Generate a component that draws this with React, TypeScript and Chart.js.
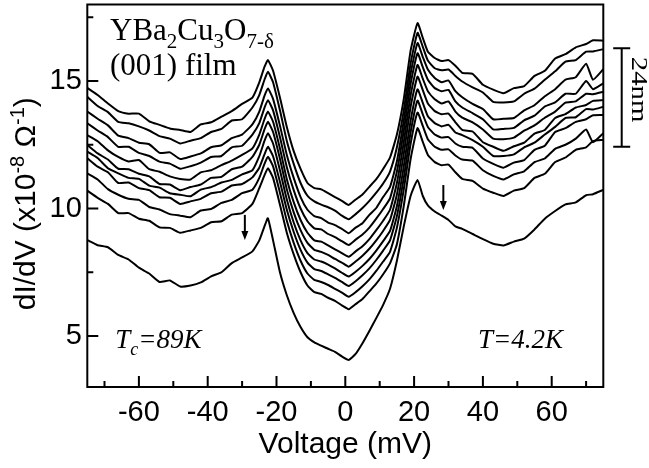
import React, { useEffect, useRef } from "react";
import { Chart, registerables } from "chart.js";

Chart.register(...registerables);

// ---------- data ----------
const voltage = [
  -75, -72, -69, -66, -63, -60, -57, -54, -51, -48, -45, -42, -39, -36, -33, -30, -27,
  -25, -23.5, -22.5, -21, -19, -17, -15, -13, -11, -9, -7, -5, -3, -1,
  1, 3, 5, 7, 9, 11, 13, 15, 17, 19, 21, 22.5, 24, 26, 28, 30, 32,
  34, 37, 40, 43, 46, 49, 52, 55, 58, 61, 64, 67, 70,
  72, 75,
];

const curve1 = [
  14.73, 14.45, 14.12, 13.82, 13.72, 13.72, 13.42, 13.28, 13.14, 13.08, 13.0, 13.3, 13.38, 13.6, 13.82, 14.1, 14.35,
  14.95, 15.55, 15.82, 15.4, 14.35, 13.2, 12.25, 11.55, 11.0, 10.8, 10.75, 10.6, 10.45, 10.3,
  10.14, 10.35, 10.55, 10.85, 11.15, 11.55, 12.0, 12.9, 14.3, 16.2, 17.27, 16.7, 16.15, 15.9, 15.78, 15.82, 15.6,
  15.32, 15.28, 14.85, 14.66, 14.52, 14.72, 14.8, 15.2, 15.4, 15.88, 16.05, 16.32, 16.45,
  16.6, 16.58,
];
const curve2 = [
  14.38, 14.02, 13.78, 13.4, 13.34, 13.22, 13.06, 12.84, 12.74, 12.55, 12.66, 12.76, 13.0, 13.12, 13.45, 13.5, 13.96,
  14.45, 15.05, 15.36, 14.95, 13.85, 12.65, 11.75, 11.0, 10.5, 10.28, 10.15, 10.05, 9.92, 9.72,
  9.58, 9.78, 10.02, 10.3, 10.62, 10.98, 11.45, 12.4, 13.85, 15.7, 16.89, 16.35, 15.8, 15.5, 15.42, 15.45, 15.2,
  14.98, 14.75, 14.55, 14.18, 14.16, 14.2, 14.5, 14.7, 15.05, 15.38, 15.76, 15.82, 16.15,
  16.16, 16.25,
];
const curve3 = [
  13.8, 13.52, 13.26, 12.86, 12.76, 12.58, 12.52, 12.18, 12.2, 11.94, 12.04, 12.16, 12.4, 12.48, 12.76, 12.9, 13.3,
  13.8, 14.42, 14.71, 14.3, 13.25, 12.1, 11.2, 10.45, 9.95, 9.7, 9.62, 9.45, 9.35, 9.2,
  9.03, 9.25, 9.42, 9.75, 10.02, 10.45, 10.85, 11.85, 13.45, 15.3, 16.49, 15.95, 15.45, 15.12, 14.95, 15.02, 14.6,
  14.36, 14.1, 13.9, 13.5, 13.52, 13.55, 13.85, 14.05, 14.4, 14.68, 15.05, 15.15, 15.68,
  15.05, 15.46,
];
const curve4 = [
  13.34, 13.06, 12.8, 12.42, 12.42, 12.18, 12.06, 11.84, 11.76, 11.56, 11.66, 11.8, 12.02, 12.06, 12.4, 12.46, 12.9,
  13.35, 13.95, 14.25, 13.85, 12.8, 11.62, 10.72, 10.0, 9.5, 9.22, 9.18, 9.0, 8.88, 8.72,
  8.57, 8.78, 8.98, 9.25, 9.6, 9.98, 10.4, 11.45, 13.05, 14.9, 16.09, 15.55, 15.05, 14.72, 14.6, 14.65, 14.2,
  13.96, 13.74, 13.5, 13.1, 13.12, 13.16, 13.46, 13.64, 14.0, 14.16, 14.5, 14.5, 15.0,
  14.68, 14.91,
];
const curve5 = [
  12.88, 12.64, 12.28, 12.02, 11.84, 11.9, 11.54, 11.44, 11.26, 11.16, 11.14, 11.42, 11.5, 11.7, 11.88, 12.1, 12.36,
  12.9, 13.5, 13.8, 13.4, 12.35, 11.15, 10.25, 9.55, 9.05, 8.75, 8.7, 8.55, 8.4, 8.25,
  8.11, 8.32, 8.52, 8.8, 9.15, 9.52, 9.95, 11.0, 12.6, 14.45, 15.63, 15.1, 14.6, 14.28, 14.12, 14.2, 13.8,
  13.56, 13.38, 13.1, 12.74, 12.72, 12.78, 13.05, 13.26, 13.56, 13.8, 14.15, 14.2, 14.5,
  14.48, 14.58,
];
const curve6 = [
  12.49, 12.16, 11.92, 11.56, 11.54, 11.36, 11.26, 10.96, 10.94, 10.72, 10.84, 10.94, 11.2, 11.24, 11.54, 11.64, 12.02,
  12.5, 13.1, 13.4, 13.0, 11.95, 10.75, 9.85, 9.15, 8.65, 8.38, 8.3, 8.18, 8.02, 7.88,
  7.72, 7.92, 8.15, 8.42, 8.75, 9.12, 9.55, 10.55, 12.15, 14.0, 15.17, 14.65, 14.12, 13.82, 13.7, 13.72, 13.38,
  13.08, 13.02, 12.6, 12.42, 12.26, 12.44, 12.58, 12.94, 13.08, 13.55, 13.7, 13.96, 14.06,
  14.22, 14.25,
];
const curve7 = [
  12.23, 11.98, 11.58, 11.38, 11.2, 11.16, 10.9, 10.82, 10.6, 10.54, 10.48, 10.74, 10.84, 11.02, 11.12, 11.34, 11.5,
  12.05, 12.65, 12.95, 12.55, 11.5, 10.35, 9.45, 8.75, 8.25, 8.0, 7.92, 7.8, 7.65, 7.48,
  7.33, 7.52, 7.75, 8.02, 8.35, 8.72, 9.12, 10.1, 11.65, 13.45, 14.67, 14.15, 13.62, 13.35, 13.22, 13.28, 12.98,
  12.88, 12.68, 12.42, 12.06, 12.06, 12.12, 12.4, 12.58, 12.9, 13.2, 13.55, 13.58, 13.9,
  13.88, 13.99,
];
const curve8 = [
  11.97, 11.64, 11.42, 11.0, 11.02, 10.8, 10.72, 10.44, 10.42, 10.18, 10.28, 10.38, 10.6, 10.66, 10.9, 10.96, 11.22,
  11.6, 12.12, 12.42, 12.05, 11.05, 9.95, 9.08, 8.38, 7.88, 7.62, 7.55, 7.42, 7.28, 7.12,
  6.96, 7.15, 7.38, 7.65, 7.98, 8.35, 8.75, 9.7, 11.2, 13.0, 14.23, 13.7, 13.2, 12.9, 12.78, 12.8, 12.55,
  12.42, 12.38, 11.96, 11.75, 11.6, 11.8, 11.9, 12.3, 12.46, 13.0, 13.15, 13.4, 13.5,
  13.66, 13.67,
];
const curve9 = [
  11.38, 11.14, 10.76, 10.54, 10.38, 10.34, 10.06, 9.96, 9.78, 9.72, 9.66, 9.92, 9.98, 10.22, 10.34, 10.6, 10.74,
  11.2, 11.75, 12.03, 11.65, 10.62, 9.52, 8.65, 7.95, 7.45, 7.2, 7.12, 7.0, 6.85, 6.7,
  6.54, 6.72, 6.95, 7.22, 7.55, 7.92, 8.3, 9.25, 10.75, 12.55, 13.76, 13.25, 12.72, 12.42, 12.3, 12.32, 12.08,
  11.92, 11.88, 11.5, 11.28, 11.14, 11.34, 11.46, 11.82, 11.96, 12.34, 12.5, 12.74, 13.1,
  12.6, 12.95,
];
const curve10 = [
  10.7, 10.42, 10.18, 9.82, 9.82, 9.6, 9.52, 9.26, 9.24, 9.05, 9.14, 9.24, 9.46, 9.5, 9.76, 9.82, 10.18,
  10.8, 11.3, 11.58, 11.2, 10.15, 9.05, 8.2, 7.5, 6.98, 6.72, 6.65, 6.5, 6.38, 6.2,
  6.05, 6.25, 6.45, 6.75, 7.05, 7.42, 7.85, 8.6, 10.1, 11.95, 13.15, 12.62, 12.1, 11.82, 11.7, 11.72, 11.42,
  11.16, 11.08, 10.78, 10.62, 10.49, 10.7, 10.8, 11.2, 11.36, 11.82, 12.0, 12.3, 12.4,
  12.64, 12.69,
];
const curve11 = [
  8.76, 8.56, 8.48, 8.18, 8.0, 7.68, 7.45, 7.12, 7.18, 6.94, 6.98, 7.1, 7.34, 7.5, 7.86, 8.08, 8.32,
  8.75, 9.3, 9.62, 8.75, 7.5, 6.6, 5.9, 5.35, 4.95, 4.75, 4.62, 4.5, 4.38, 4.2,
  4.06, 4.3, 4.72, 5.2, 5.7, 6.22, 6.85, 7.95, 9.3, 10.5, 11.12, 10.5, 10.12, 9.88, 9.72, 9.55, 9.3,
  9.2, 9.0, 8.8, 8.62, 8.55, 8.7, 8.82, 9.18, 9.6, 9.9, 10.16, 10.24, 10.52,
  10.56, 10.73,
];

const curves = [curve1, curve2, curve3, curve4, curve5, curve6, curve7, curve8, curve9, curve10, curve11];

const xMajorTicks = [-60, -40, -20, 0, 20, 40, 60];
const xMinorTicks = [-70, -50, -30, -10, 10, 30, 50, 70];
const yMajorTicks = [5, 10, 15];
const yMinorTicks = [7.5, 12.5, 17.5];

const X_MIN = -75;
const X_MAX = 75;
const Y_MIN = 3;
const Y_MAX = 18;

// ---------- styling ----------
const SANS = '"Liberation Sans", Arial, Helvetica, sans-serif';
const SERIF = '"Liberation Serif", "Times New Roman", Times, serif';

type Part = { t: string; sub?: boolean; sup?: boolean };

function partFont(p: Part, size: number, family: string, style: string) {
  const s = p.sub || p.sup ? Math.round(size * 0.68) : size;
  return `${style} ${s}px ${family}`;
}

function measureRich(ctx: CanvasRenderingContext2D, parts: Part[], size: number, family: string, style = "") {
  let w = 0;
  for (const p of parts) {
    ctx.font = partFont(p, size, family, style);
    w += ctx.measureText(p.t).width;
  }
  return w;
}

function drawRich(
  ctx: CanvasRenderingContext2D,
  x: number,
  y: number,
  parts: Part[],
  size: number,
  family: string,
  style = ""
) {
  let cx = x;
  ctx.textAlign = "left";
  ctx.textBaseline = "alphabetic";
  for (const p of parts) {
    ctx.font = partFont(p, size, family, style);
    const dy = p.sub ? size * 0.27 : p.sup ? -size * 0.38 : 0;
    ctx.fillText(p.t, cx, y + dy);
    cx += ctx.measureText(p.t).width;
  }
  return cx - x;
}

const formulaParts: Part[] = [
  { t: "YBa" },
  { t: "2", sub: true },
  { t: "Cu" },
  { t: "3", sub: true },
  { t: "O" },
  { t: "7-δ", sub: true },
];
const filmParts: Part[] = [{ t: "(001) film" }];
const tcParts: Part[] = [{ t: "T" }, { t: "c", sub: true }, { t: "=89K" }];
const tParts: Part[] = [{ t: "T=4.2K" }];
const yTitleParts: Part[] = [
  { t: "dI/dV (x10" },
  { t: "-8", sup: true },
  { t: " Ω" },
  { t: "-1", sup: true },
  { t: ")" },
];

function drawArrow(ctx: CanvasRenderingContext2D, x: number, y1: number, y2: number) {
  ctx.beginPath();
  ctx.moveTo(x, y1);
  ctx.lineTo(x, y2 - 6);
  ctx.stroke();
  ctx.beginPath();
  ctx.moveTo(x - 3.5, y2 - 9);
  ctx.lineTo(x + 3.5, y2 - 9);
  ctx.lineTo(x, y2);
  ctx.closePath();
  ctx.fill();
}

const decorations = {
  id: "decorations",
  afterDraw(chart: any) {
    const { ctx, chartArea: a, scales } = chart;
    const xs = scales.x;
    const ys = scales.y;
    ctx.save();
    ctx.strokeStyle = "#000";
    ctx.fillStyle = "#000";
    ctx.lineWidth = 2;

    // frame
    ctx.strokeRect(a.left, a.top, a.right - a.left, a.bottom - a.top);

    // inward ticks
    ctx.beginPath();
    for (const v of xMajorTicks) {
      const px = xs.getPixelForValue(v);
      ctx.moveTo(px, a.bottom);
      ctx.lineTo(px, a.bottom - 11);
    }
    for (const v of xMinorTicks) {
      const px = xs.getPixelForValue(v);
      ctx.moveTo(px, a.bottom);
      ctx.lineTo(px, a.bottom - 6);
    }
    for (const v of yMajorTicks) {
      const py = ys.getPixelForValue(v);
      ctx.moveTo(a.left, py);
      ctx.lineTo(a.left + 11, py);
    }
    for (const v of yMinorTicks) {
      const py = ys.getPixelForValue(v);
      ctx.moveTo(a.left, py);
      ctx.lineTo(a.left + 6, py);
    }
    ctx.stroke();

    // text annotations
    drawRich(ctx, xs.getPixelForValue(-68.4), ys.getPixelForValue(16.61), formulaParts, 31, SERIF);
    drawRich(ctx, xs.getPixelForValue(-68.4), ys.getPixelForValue(15.24), filmParts, 31, SERIF);
    drawRich(ctx, xs.getPixelForValue(-66.9), ys.getPixelForValue(4.53), tcParts, 27, SERIF, "italic");
    drawRich(ctx, xs.getPixelForValue(38.6), ys.getPixelForValue(4.53), tParts, 27, SERIF, "italic");

    // arrows
    ctx.lineWidth = 2;
    drawArrow(ctx, xs.getPixelForValue(-29.2), ys.getPixelForValue(9.75), ys.getPixelForValue(8.76));
    drawArrow(ctx, xs.getPixelForValue(28.5), ys.getPixelForValue(10.92), ys.getPixelForValue(9.94));

    // scale bar
    const bx = a.right + 18.4;
    const bTop = ys.getPixelForValue(16.28);
    const bBot = ys.getPixelForValue(12.42);
    ctx.beginPath();
    ctx.moveTo(bx, bTop);
    ctx.lineTo(bx, bBot);
    ctx.moveTo(bx - 8.5, bTop);
    ctx.lineTo(bx + 8.5, bTop);
    ctx.moveTo(bx - 8.5, bBot);
    ctx.lineTo(bx + 8.5, bBot);
    ctx.stroke();

    ctx.save();
    ctx.translate(bx + 10.5, (bTop + bBot) / 2 - 8);
    ctx.rotate(Math.PI / 2);
    ctx.scale(1.2, 1);
    ctx.font = `24px ${SERIF}`;
    ctx.textAlign = "center";
    ctx.textBaseline = "alphabetic";
    ctx.fillText("24nm", 0, 0);
    ctx.restore();

    // y-axis title with superscripts
    ctx.save();
    const tw = measureRich(ctx, yTitleParts, 30, SANS);
    ctx.translate(35, (a.top + a.bottom) / 2 + 8);
    ctx.rotate(-Math.PI / 2);
    drawRich(ctx, -tw / 2, 0, yTitleParts, 30, SANS);
    ctx.restore();

    ctx.restore();
  },
};

function zeroPadding(s: any) {
  s.paddingTop = 0;
  s.paddingBottom = 0;
  s.paddingLeft = 0;
  s.paddingRight = 0;
}

export default function App() {
  const canvasRef = useRef<HTMLCanvasElement | null>(null);

  useEffect(() => {
    const canvas = canvasRef.current;
    if (!canvas) return;

    const datasets = curves.map((c, i) => ({
      label: `curve ${i + 1}`,
      data: voltage.map((v, j) => ({ x: v, y: c[j] })),
      borderColor: "#000",
      borderWidth: 2,
      pointRadius: 0,
      tension: 0.15,
      fill: false,
    }));

    const chart = new Chart(canvas, {
      type: "line",
      data: { datasets },
      options: {
        responsive: false,
        animation: false,
        devicePixelRatio: 1,
        layout: { padding: { top: 4.5, right: 45.7, left: 0, bottom: 0 } },
        plugins: { legend: { display: false }, tooltip: { enabled: false } },
        scales: {
          x: {
            type: "linear",
            min: X_MIN,
            max: X_MAX,
            grid: { display: false, drawTicks: false },
            border: { display: false },
            afterBuildTicks: (s: any) => {
              s.ticks = xMajorTicks.map((v) => ({ value: v }));
            },
            afterFit: (s: any) => {
              s.height = 81;
              zeroPadding(s);
            },
            ticks: {
              color: "#000",
              padding: 8.6,
              maxRotation: 0,
              autoSkip: false,
              font: { family: SANS, size: 29 },
              callback: (v: any) => String(v),
            },
            title: {
              display: true,
              text: "Voltage (mV)",
              color: "#000",
              font: { family: SANS, size: 30 },
              padding: { top: 0, bottom: 5 },
            },
          },
          y: {
            type: "linear",
            min: Y_MIN,
            max: Y_MAX,
            grid: { display: false, drawTicks: false },
            border: { display: false },
            afterBuildTicks: (s: any) => {
              s.ticks = yMajorTicks.map((v) => ({ value: v }));
            },
            afterFit: (s: any) => {
              s.width = 87.3;
              zeroPadding(s);
            },
            ticks: {
              color: "#000",
              padding: 5.5,
              autoSkip: false,
              font: { family: SANS, size: 29 },
              callback: (v: any) => String(v),
            },
          },
        },
      },
      plugins: [decorations],
    });

    return () => chart.destroy();
  }, []);

  return (
    <div style={{ position: "fixed", left: 0, top: 0, width: 649, height: 468, background: "#fff" }}>
      <canvas ref={canvasRef} width={649} height={468} style={{ display: "block" }} />
    </div>
  );
}
